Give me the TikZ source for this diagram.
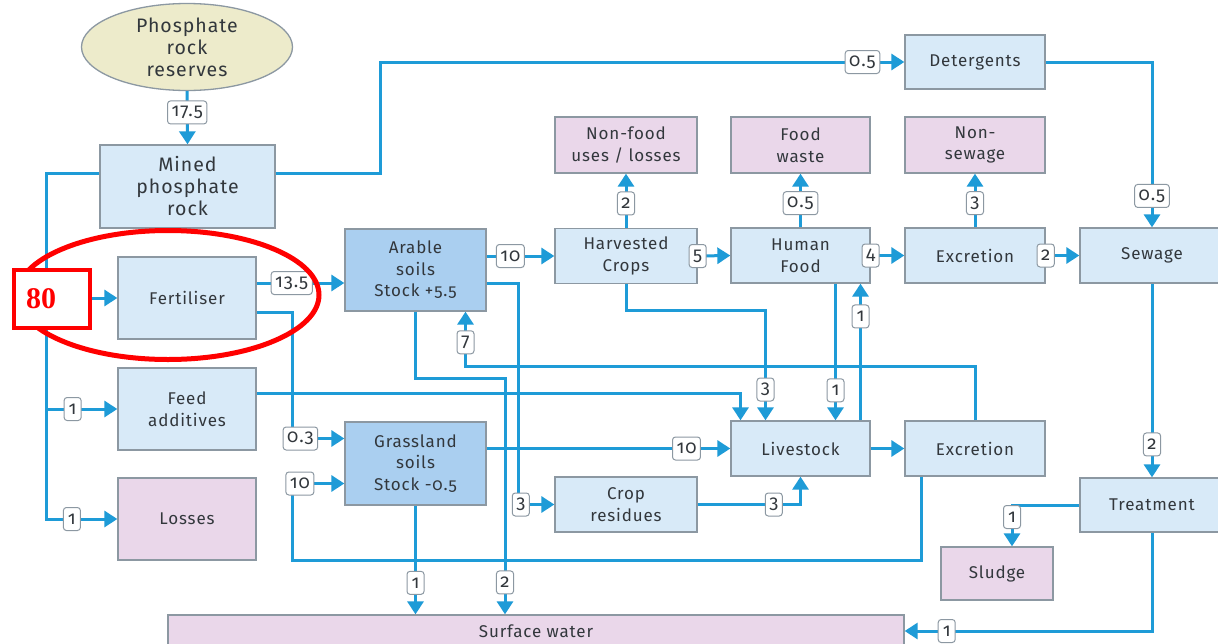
\documentclass[tikz,border=0pt]{standalone}
\usepackage{fontspec}
\setmainfont{Fira Sans}[Numbers=OldStyle, LetterSpace=5]
\newfontfamily\notefont{Liberation Serif}
\usetikzlibrary{arrows.meta, shapes.geometric}
\definecolor{flowblue}{RGB}{30,155,215}
\definecolor{paleblue}{RGB}{216,234,248}
\definecolor{soilblue}{RGB}{170,207,240}
\definecolor{sinkpink}{RGB}{234,215,234}
\definecolor{rockbeige}{RGB}{237,235,203}
\definecolor{boxgray}{RGB}{140,152,162}
\definecolor{ink}{RGB}{50,55,60}

\begin{document}
\begin{tikzpicture}[x=1pt, y=-1pt,
    box/.style={draw=boxgray, fill=paleblue, line width=1.3pt, align=center, text=ink,
      font=\fontsize{17}{21.5}\selectfont, minimum width=140pt, minimum height=55pt, inner sep=0pt},
    large/.style={font=\fontsize{19.5}{22}\selectfont},
    soil/.style={box, fill=soilblue, minimum width=141pt, minimum height=82pt},
    sink/.style={box, fill=sinkpink},
    big/.style={minimum width=138pt, minimum height=82pt},
    lbl/.style={draw=boxgray, fill=white, rounded corners=3pt, line width=1pt, text=ink,
      font=\fontsize{18.5}{18}\selectfont, inner xsep=4pt, inner ysep=2pt, minimum height=23pt, minimum width=17pt},
    flow/.style={draw=flowblue, line width=3pt, -{Triangle[width=16pt,length=13pt]}}]
    \clip (0,0) rectangle (1218,643);
    \fill[white] (0,0) rectangle (1218,643);

    % boxes
    \node (reserves) [box, large, ellipse, fill=rockbeige, minimum width=211pt, minimum height=87pt] at (187,47) {Phosphate\\rock\\reserves};
    \node (mined) [box, large, minimum width=175pt, minimum height=83pt] at (187.5,186.5) {Mined\\phosphate\\rock};
    \node (fert) [box, big] at (187,298) {Fertiliser};
    \node (feed) [box, big] at (187,409) {Feed\\additives};
    \node (losses) [sink, big] at (187,519) {Losses};
    \node (arable) [soil] at (415.5,270) {Arable\\soils\\Stock +5.5};
    \node (grass) [soil, minimum height=83pt] at (415.5,463.5) {Grassland\\soils\\Stock -0.5};
    \node (harvest) [box, minimum width=142pt] at (626,256) {Harvested\\Crops};
    \node (human) [box, minimum width=139pt] at (800.5,255.5) {Human\\Food};
    \node (excrA) [box] at (975,255.5) {Excretion};
    \node (sewage) [box, minimum width=144pt] at (1152,255.5) {Sewage};
    \node (nonfood) [sink, minimum width=142pt, minimum height=56pt] at (626,145) {Non-food\\uses / losses};
    \node (waste) [sink, minimum width=139pt, minimum height=56pt] at (800.5,145) {Food\\waste};
    \node (nonsew) [sink, minimum height=56pt] at (975,145) {Non-\\sewage};
    \node (deterg) [box, minimum height=54pt] at (975,62) {Detergents};
    \node (live) [box, minimum width=139pt] at (800.5,448.5) {Livestock};
    \node (excrB) [box] at (975,448.5) {Excretion};
    \node (crop) [box, minimum width=142pt] at (626,504.5) {Crop\\residues};
    \node (treat) [box, minimum width=144pt, minimum height=54pt] at (1152,505) {Treatment};
    \node (sludge) [sink, minimum width=112pt, minimum height=53pt] at (997,573.5) {Sludge};
    \node (surface) [sink, minimum width=736pt, minimum height=32pt] at (536,631) {Surface water};

    % flows
    \draw[flow] (reserves.south) -- (mined.north) node[lbl, pos=0.4] (q1) {17.5};
    \draw[flow] ([yshift=13pt]mined.east) -- ++(105,0) |- (deterg.west) node[lbl, pos=0.96] (q2) {0.5};
    \draw[flow] (deterg.east) -| (sewage.north) node[lbl, pos=0.905] (q3) {0.5};
    \draw[flow] ([yshift=13pt]mined.west) -- ++(-53,0) coordinate (trunk) |- (losses.west) node[lbl, pos=0.68] (q4) {1};
    \draw[flow] (trunk |- fert.west) -- (fert.west);
    \draw[flow] (trunk |- feed.west) -- (feed.west) node[lbl, pos=0.37] (q5) {1};
    \draw[flow] ([yshift=15pt]fert.east) -- ([yshift=15pt]fert.east -| arable.west) node[lbl, pos=0.4] (q6) {13.5};
    \draw[flow] ([yshift=-14pt]fert.east) -- ++(36,0) |- ([yshift=25pt]grass.west) node[lbl, pos=0.575] (q7) {0.3};
    \draw[flow] ([xshift=-54pt]excrB.south) |- (292,560) |- ([yshift=-20pt]grass.west) node[lbl, pos=0.575] (q8) {10};
    \draw[flow] (excrB.north) -- ++(0,-54) -| ([xshift=50pt]arable.south) node[lbl, pos=0.72] (q9) {7};
    \draw[flow] (arable.east |- harvest.west) -- (harvest.west) node[lbl, pos=0.35] (q10) {10};
    \draw[flow] ([yshift=-13pt]arable.east) -- ++(32,0) |- (crop.west) node[lbl, pos=0.53] (q11) {3};
    \coordinate (bend) at (505,378);
    \draw[flow] (arable.south) |- (bend) -- (bend |- surface.north) node[lbl, pos=0.865] (q12) {2};
    \draw[flow] (grass.south) -- (grass.south |- surface.north) node[lbl, pos=0.71] (q13) {1};
    \draw[flow] (harvest.north) -- (nonfood.south) node[lbl, pos=0.45] (q14) {2};
    \draw[flow] (human.north) -- (waste.south) node[lbl, pos=0.45] (q15) {0.5};
    \draw[flow] (excrA.north) -- (nonsew.south) node[lbl, pos=0.45] (q16) {3};
    \draw[flow] (harvest.east) -- (human.west) node[lbl, pos=0] (q17) {5};
    \draw[flow] (human.east) -- (excrA.west) node[lbl, pos=0] (q18) {4};
    \draw[flow] (excrA.east) -- (sewage.west) node[lbl, pos=0] (q19) {2};
    \draw[flow] (sewage.south) -- (treat.north) node[lbl, pos=0.83] (q20) {2};
    \draw[flow] (treat.west) -| ([xshift=15pt]sludge.north) node[lbl, pos=0.645] (q21) {1};
    \draw[flow] (treat.south) |- (surface.east) node[lbl, pos=0.915] (q22) {1};
    \draw[flow] ([yshift=16pt]feed.east) -| ([xshift=-60pt]live.north);
    \draw[flow] (harvest.south) -- ++(0,26) -| ([xshift=-35pt]live.north) node[lbl, pos=0.86] (q23) {3};
    \draw[flow] ([xshift=35pt]human.south) -- ([xshift=35pt]live.north) node[lbl, pos=0.78] (q24) {1};
    \draw[flow] ([xshift=60pt]live.north) -- ([xshift=60pt]human.south) node[lbl, pos=0.76] (q25) {1};
    \draw[flow] (grass.east |- live.west) -- (live.west) node[lbl, pos=0.82] (q26) {10};
    \draw[flow] (live.east) -- (excrB.west);
    \draw[flow] (crop.east) -| (live.south) node[lbl, pos=0.37] (q27) {3};

    % red marking
    \node (ring) [draw=red, line width=5pt, ellipse, minimum width=302pt, minimum height=129pt] at (168,295) {};
    \node (note) [draw=red, line width=4pt, fill=white, minimum width=76pt, minimum height=58pt] at (52,299) {};
    \node (notetext) [text=red, font=\notefont\bfseries\fontsize{30}{30}\selectfont] at (41,299) {80};
\end{tikzpicture}
\end{document}
